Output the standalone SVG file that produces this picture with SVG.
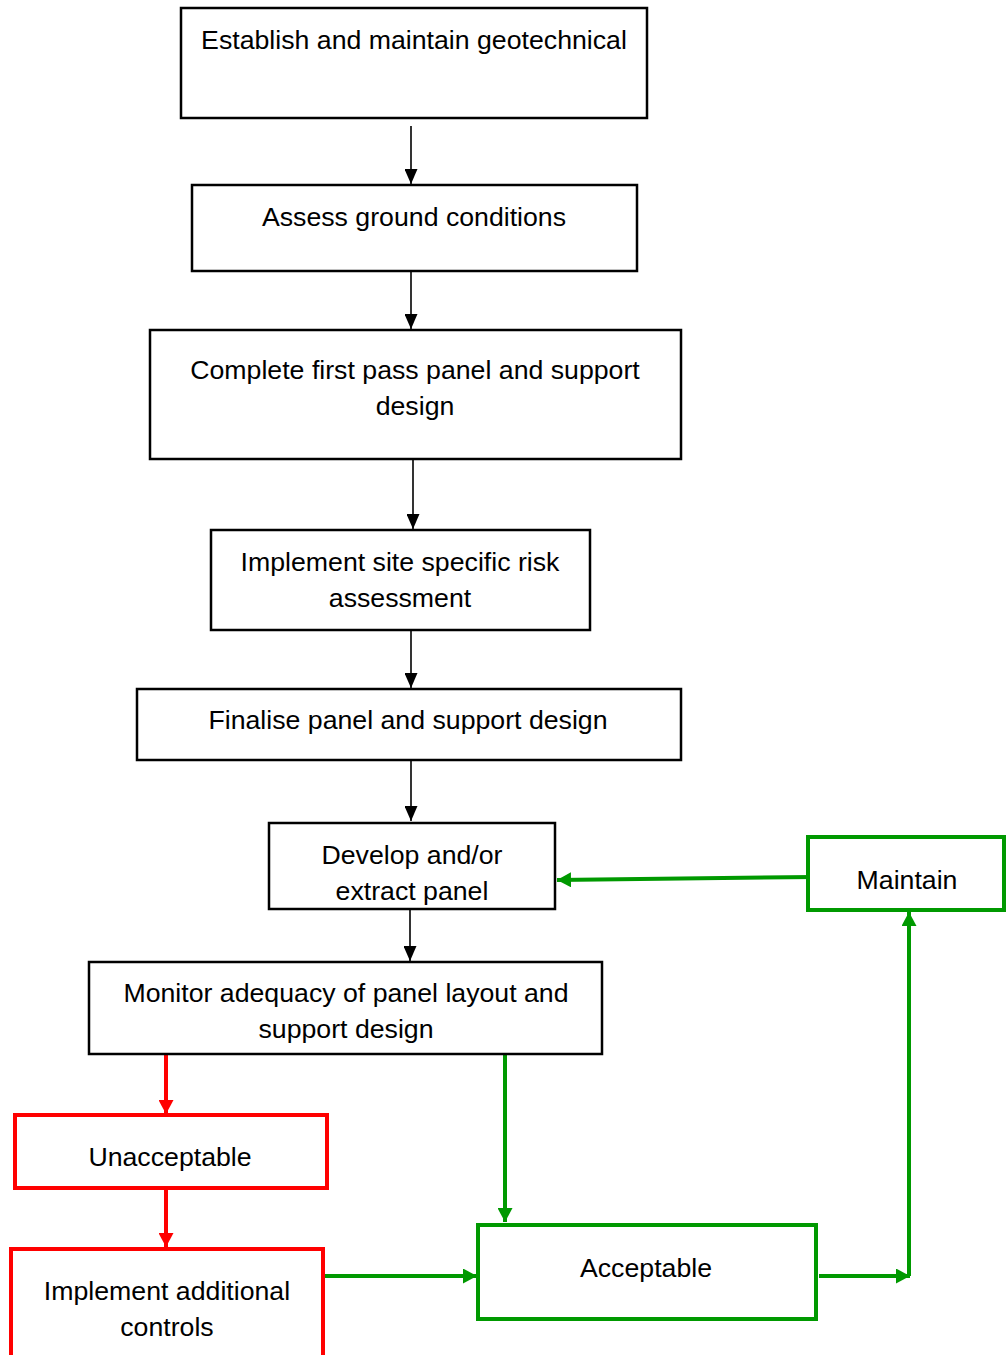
<svg xmlns="http://www.w3.org/2000/svg" width="1006" height="1355" viewBox="0 0 1006 1355">
<defs>
<style>
.box{fill:#fff;stroke:#000;stroke-width:2.5}
.rbox{fill:#fff;stroke:#ff0000;stroke-width:4}
.gbox{fill:#fff;stroke:#009900;stroke-width:4}
text{font-family:"Liberation Sans",Arial,sans-serif;font-size:26.7px;fill:#000;text-anchor:middle}
.k{stroke:#000;stroke-width:1.6;fill:none}
.r{stroke:#ff0000;stroke-width:4;fill:none}
.g{stroke:#009900;stroke-width:4;fill:none}
</style>
<marker id="ak" viewBox="0 0 15 13" refX="15" refY="6.5" markerWidth="15" markerHeight="13" markerUnits="userSpaceOnUse" orient="auto"><path d="M0,0 L15,6.5 L0,13 z" fill="#000"/></marker>
<marker id="ar" viewBox="0 0 14 15" refX="14" refY="7.5" markerWidth="14" markerHeight="15" markerUnits="userSpaceOnUse" orient="auto"><path d="M0,0 L14,7.5 L0,15 z" fill="#ff0000"/></marker>
<marker id="ag" viewBox="0 0 14 15" refX="14" refY="7.5" markerWidth="14" markerHeight="15" markerUnits="userSpaceOnUse" orient="auto"><path d="M0,0 L14,7.5 L0,15 z" fill="#009900"/></marker>
</defs>
<rect width="1006" height="1355" fill="#fff"/>
<g id="connectors">
<line class="k" x1="411" y1="126" x2="411" y2="184" marker-end="url(#ak)"/>
<line class="k" x1="411" y1="272" x2="411" y2="329" marker-end="url(#ak)"/>
<line class="k" x1="413" y1="460" x2="413" y2="529" marker-end="url(#ak)"/>
<line class="k" x1="411" y1="631" x2="411" y2="688" marker-end="url(#ak)"/>
<line class="k" x1="411" y1="761" x2="411" y2="821" marker-end="url(#ak)"/>
<line class="k" x1="410" y1="910" x2="410" y2="961" marker-end="url(#ak)"/>
<line class="r" x1="166" y1="1055" x2="166" y2="1114" marker-end="url(#ar)"/>
<line class="r" x1="166" y1="1188" x2="166" y2="1247" marker-end="url(#ar)"/>
<line class="g" x1="505" y1="1055" x2="505" y2="1222" marker-end="url(#ag)"/>
<line class="g" x1="325" y1="1276" x2="477" y2="1276" marker-end="url(#ag)"/>
<line class="g" x1="819" y1="1276" x2="910" y2="1276" marker-end="url(#ag)"/>
<line class="g" x1="909" y1="1276" x2="909" y2="912" marker-end="url(#ag)"/>
<line class="g" x1="814" y1="877" x2="557" y2="880" marker-end="url(#ag)"/>
</g>
<g id="n1"><rect class="box" x="181" y="8" width="466" height="110"/><text x="414" y="49">Establish and maintain geotechnical</text></g>
<g id="n2"><rect class="box" x="192" y="185" width="445" height="86"/><text x="414" y="226">Assess ground conditions</text></g>
<g id="n3"><rect class="box" x="150" y="330" width="531" height="129"/><text x="415" y="379">Complete first pass panel and support</text><text x="415" y="415">design</text></g>
<g id="n4"><rect class="box" x="211" y="530" width="379" height="100"/><text x="400" y="571">Implement site specific risk</text><text x="400" y="607">assessment</text></g>
<g id="n5"><rect class="box" x="137" y="689" width="544" height="71"/><text x="408" y="729">Finalise panel and support design</text></g>
<g id="n6"><rect class="box" x="269" y="823" width="286" height="86"/><text x="412" y="864">Develop and/or</text><text x="412" y="900">extract panel</text></g>
<g id="n7"><rect class="box" x="89" y="962" width="513" height="92"/><text x="346" y="1002">Monitor adequacy of panel layout and</text><text x="346" y="1038">support design</text></g>
<g id="n8"><rect class="rbox" x="15" y="1115" width="312" height="73"/><text x="170" y="1166">Unacceptable</text></g>
<g id="n9"><rect class="rbox" x="11" y="1249" width="312" height="110"/><text x="167" y="1300">Implement additional</text><text x="167" y="1336">controls</text></g>
<g id="n10"><rect class="gbox" x="478" y="1225" width="338" height="94"/><text x="646" y="1277">Acceptable</text></g>
<g id="n11"><rect class="gbox" x="808" y="837" width="196" height="73"/><text x="907" y="889">Maintain</text></g>
</svg>
